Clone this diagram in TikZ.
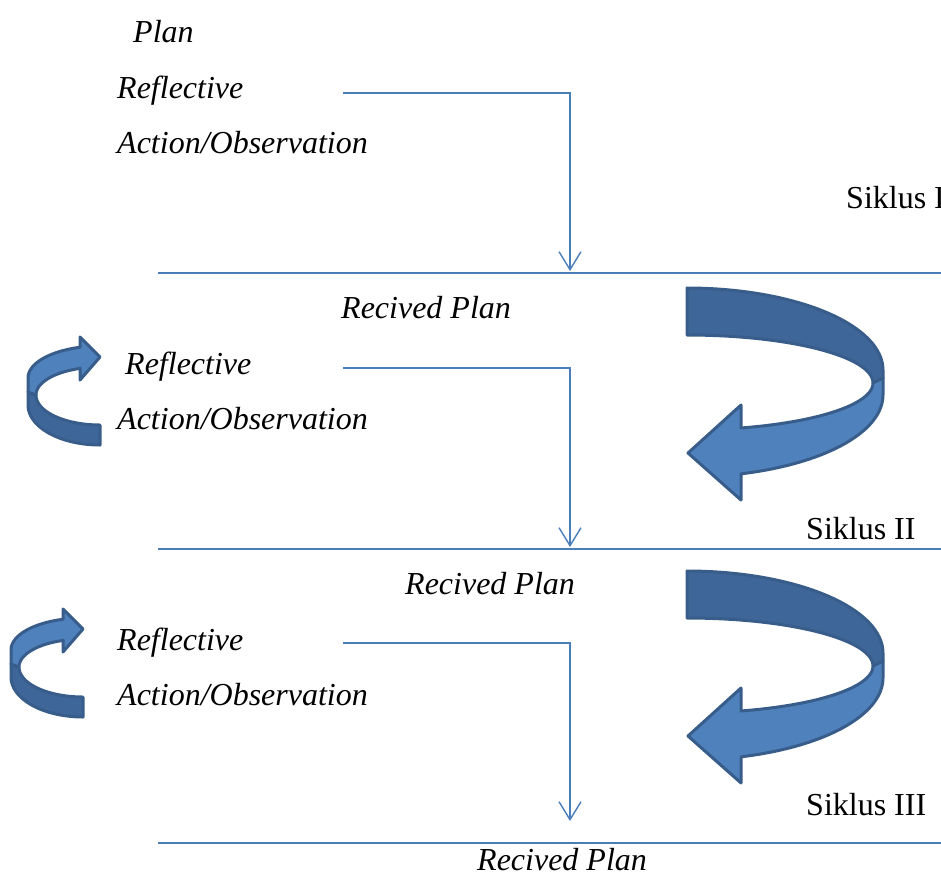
\documentclass[tikz,border=0pt]{standalone}
\usepackage{fontspec}
\setmainfont{Liberation Serif}
\usetikzlibrary{arrows.meta}
\definecolor{lineblue}{HTML}{4A7EBB}
\definecolor{frontblue}{HTML}{4F81BD}
\definecolor{backblue}{HTML}{3F6698}
\definecolor{edgeblue}{HTML}{385D8A}
\begin{document}
\begin{tikzpicture}[x=1pt,y=-1pt,
  lbl/.style={anchor=base west,inner sep=0pt,font=\fontsize{32}{38}\selectfont\itshape},
  sik/.style={anchor=base west,inner sep=0pt,font=\fontsize{32}{38}\selectfont},
  conn/.style={draw=lineblue,line width=1.4pt,-{Straight Barb[length=18pt,width=22pt,line width=1.4pt]}},
  rule/.style={draw=lineblue,line width=1.4pt},
  front/.style={fill=frontblue,draw=edgeblue,line width=3pt,line join=round},
  back/.style={fill=backblue,draw=edgeblue,line width=3pt,line join=round}]
\useasboundingbox (0,0) rectangle (941,873);

% texts
\node[lbl] (plan) at (133,42) {Plan};
\node[lbl] (ref1) at (117,98) {Reflective};
\node[lbl] (act1) at (117,153) {Action/Observation};
\node[sik] (s1) at (846,208) {Siklus I};
\node[lbl] (rp1) at (341,318) {Recived Plan};
\node[lbl] (ref2) at (125,374) {Reflective};
\node[lbl] (act2) at (117,429) {Action/Observation};
\node[sik] (s2) at (806,539) {Siklus II};
\node[lbl] (rp2) at (405,594) {Recived Plan};
\node[lbl] (ref3) at (117,650) {Reflective};
\node[lbl] (act3) at (117,705) {Action/Observation};
\node[sik] (s3) at (806,815) {Siklus III};
\node[lbl] (rp3) at (477,870) {Recived Plan};

% horizontal rules
\coordinate (r1a) at (158,273); \coordinate (r1b) at (941,273);
\coordinate (r2a) at (158,549); \coordinate (r2b) at (941,549);
\coordinate (r3a) at (158,843); \coordinate (r3b) at (941,843);
\draw[rule] (r1a) -- (r1b);
\draw[rule] (r2a) -- (r2b);
\draw[rule] (r3a) -- (r3b);

% connectors
\coordinate (c1a) at (343,93); \coordinate (c1b) at (570,271);
\coordinate (c2a) at (343,368); \coordinate (c2b) at (570,547);
\coordinate (c3a) at (343,643); \coordinate (c3b) at (570,821);
\draw[conn] (c1a) -| (c1b);
\draw[conn] (c2a) -| (c2b);
\draw[conn] (c3a) -| (c3b);

% big curved arrows
\foreach \dy in {0,283}{
\begin{scope}[yshift={-\dy pt}]
 \path[back] plot[domain=90:0,samples=40,variable=\t] ({687+196*cos(\t)},{370-82*sin(\t)})
   -- (883,378) -- (873,383)
   -- plot[domain=0:90,samples=40,variable=\t] ({687+186*cos(\t)},{383-48*sin(\t)}) -- cycle;
 \path[front] (873,383) -- (883,378) -- (883,395)
   -- plot[domain=0:-74,samples=40,variable=\t] ({687+196*cos(\t)},{395-82*sin(\t)})
   -- (741,500) -- (688,453) -- (741,405) -- (741,428)
   -- plot[domain=-73:0,samples=40,variable=\t] ({687+186*cos(\t)},{383-47*sin(\t)}) -- cycle;
\end{scope}}

% small curved arrows
\foreach \dx/\dy in {0/0,-17/272}{
\begin{scope}[xshift=\dx pt,yshift={-\dy pt}]
 \path[back] (36,395) -- (28,392) -- (28,405)
   -- plot[domain=180:270,samples=30,variable=\t] ({100+72*cos(\t)},{405-40*sin(\t)})
   -- plot[domain=270:180,samples=30,variable=\t] ({100+64*cos(\t)},{395-30*sin(\t)}) -- cycle;
 \path[front] (36,395) -- (28,392)
   -- plot[domain=180:106,samples=30,variable=\t] ({100+72*cos(\t)},{378-32*sin(\t)})
   -- (80,337) -- (100,357) -- (80,380) -- (80,368)
   -- plot[domain=108:180,samples=30,variable=\t] ({100+64*cos(\t)},{395-28*sin(\t)}) -- cycle;
\end{scope}}
\end{tikzpicture}
\end{document}
